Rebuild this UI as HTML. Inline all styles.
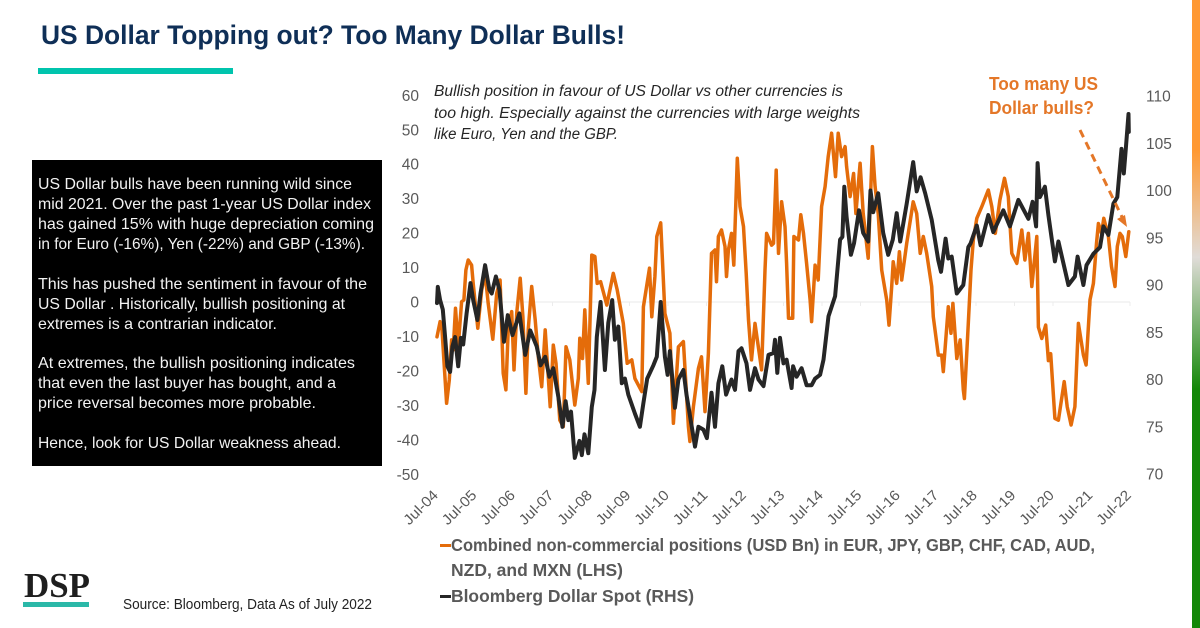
<!DOCTYPE html>
<html lang="en">
<head>
<meta charset="utf-8">
<title>US Dollar Topping out? Too Many Dollar Bulls!</title>
<style>
  html, body { margin: 0; padding: 0; background: #fff; }
  #slide { display: block; width: 1200px; height: 628px; font-family: "Liberation Sans", sans-serif; }
</style>
</head>
<body>
<svg id="slide" xmlns="http://www.w3.org/2000/svg" width="1200" height="628" viewBox="0 0 1200 628">
  <defs>
    <linearGradient id="flagGrad" x1="0" y1="0" x2="0" y2="1">
      <stop offset="0" stop-color="#FF9933"/>
      <stop offset="0.24" stop-color="#FF9933"/>
      <stop offset="0.41" stop-color="#E0DCD8"/>
      <stop offset="0.62" stop-color="#138808"/>
      <stop offset="1" stop-color="#138808"/>
    </linearGradient>
  </defs>
  <rect width="1200" height="628" fill="#fff"/>
  <rect x="1192" y="0" width="8" height="628" fill="url(#flagGrad)"/>

  <text x="41" y="44" font-size="27" font-weight="700" fill="#0F2F57" textLength="584" lengthAdjust="spacingAndGlyphs">US Dollar Topping out? Too Many Dollar Bulls!</text>
  <rect x="38" y="68" width="195" height="6" fill="#00C4AD"/>

  <g>
    <rect x="32" y="160" width="350" height="306" fill="#000"/>
    <g font-size="16" fill="#F2F2F2">
      <text x="38" y="189" textLength="314" lengthAdjust="spacingAndGlyphs">US Dollar bulls have been running wild since</text>
      <text x="38" y="209" textLength="333" lengthAdjust="spacingAndGlyphs">mid 2021. Over the past 1-year US Dollar index</text>
      <text x="38" y="229" textLength="336" lengthAdjust="spacingAndGlyphs">has gained 15% with huge depreciation coming</text>
      <text x="38" y="249" textLength="327" lengthAdjust="spacingAndGlyphs">in for Euro (-16%), Yen (-22%) and GBP (-13%).</text>
      <text x="38" y="289" textLength="329" lengthAdjust="spacingAndGlyphs">This has pushed the sentiment in favour of the</text>
      <text x="38" y="309" textLength="307" lengthAdjust="spacingAndGlyphs">US Dollar . Historically, bullish positioning at</text>
      <text x="38" y="329" textLength="239" lengthAdjust="spacingAndGlyphs">extremes is a contrarian indicator.</text>
      <text x="38" y="368" textLength="317" lengthAdjust="spacingAndGlyphs">At extremes, the bullish positioning indicates</text>
      <text x="38" y="388" textLength="298" lengthAdjust="spacingAndGlyphs">that even the last buyer has bought, and a</text>
      <text x="38" y="408" textLength="278" lengthAdjust="spacingAndGlyphs">price reversal becomes more probable.</text>
      <text x="38" y="448" textLength="303" lengthAdjust="spacingAndGlyphs">Hence, look for US Dollar weakness ahead.</text>
    </g>
  </g>

  <g id="chart"></g>

  <g font-size="15.5" font-style="italic" fill="#262626">
    <text x="434" y="96" textLength="409" lengthAdjust="spacingAndGlyphs">Bullish position in favour of US Dollar vs other currencies is</text>
    <text x="434" y="118" textLength="426" lengthAdjust="spacingAndGlyphs">too high. Especially against the currencies with large weights</text>
    <text x="434" y="139" textLength="184" lengthAdjust="spacingAndGlyphs">like Euro, Yen and the GBP.</text>
  </g>

  <g font-size="18" font-weight="700" fill="#E47728">
    <text x="989" y="90" textLength="109" lengthAdjust="spacingAndGlyphs">Too many US</text>
    <text x="989" y="114" textLength="105" lengthAdjust="spacingAndGlyphs">Dollar bulls?</text>
  </g>
  <g>
    <line x1="1080" y1="130" x2="1122" y2="217" stroke="#E47728" stroke-width="3" stroke-dasharray="8 5.5"/>
    <polygon points="1127,227 1117,219 1125,215" fill="#E47728"/>
  </g>

  <g>
    <g>
      <rect x="440" y="544" width="11" height="3" fill="#E46C0A"/>
      <g font-size="17.5" font-weight="700" fill="#595959">
        <text x="451" y="551" textLength="644" lengthAdjust="spacingAndGlyphs">Combined non-commercial positions (USD Bn) in EUR, JPY, GBP, CHF, CAD, AUD,</text>
        <text x="451" y="576" textLength="172" lengthAdjust="spacingAndGlyphs">NZD, and MXN (LHS)</text>
      </g>
    </g>
    <g>
      <rect x="440" y="595" width="11" height="3" fill="#262626"/>
      <text x="451" y="602" font-size="17.5" font-weight="700" fill="#595959" textLength="243" lengthAdjust="spacingAndGlyphs">Bloomberg Dollar Spot (RHS)</text>
    </g>
  </g>

  <g>
    <text x="24" y="597" font-family="'Liberation Serif', serif" font-size="35" font-weight="700" fill="#1E1E1E" textLength="66" lengthAdjust="spacingAndGlyphs">DSP</text>
    <rect x="23" y="602" width="66" height="5" fill="#2BB8A8"/>
  </g>
  <text x="123" y="609" font-size="14.5" fill="#222" textLength="249" lengthAdjust="spacingAndGlyphs">Source: Bloomberg, Data As of July 2022</text>
</svg>

<script>
// Years elapsed since Jul-04 for each reading, and the reading itself.
const positionYears = [0,.08,.13,.25,.32,.38,.42,.48,.55,.64,.70,.75,.81,.90,.94,1.06,1.16,1.25,1.33,1.45,1.55,1.64,1.72,1.79,1.85,1.94,2.0,2.07,2.16,2.23,2.31,2.37,2.46,2.55,2.63,2.72,2.81,2.94,3.02,3.09,3.19,3.28,3.35,3.45,3.58,3.67,3.71,3.78,3.84,3.93,4.02,4.10,4.16,4.25,4.41,4.58,4.68,4.84,4.94,5.06,5.14,5.32,5.36,5.52,5.58,5.66,5.71,5.81,5.86,5.92,6.05,6.14,6.27,6.4,6.53,6.57,6.66,6.79,6.87,6.96,7.05,7.13,7.22,7.26,7.31,7.39,7.48,7.52,7.57,7.65,7.71,7.80,7.87,7.96,8.03,8.09,8.17,8.26,8.43,8.52,8.56,8.69,8.74,8.81,8.87,8.95,9.04,9.08,9.13,9.24,9.27,9.39,9.45,9.52,9.60,9.69,9.73,9.82,9.90,9.99,10.08,10.16,10.25,10.35,10.42,10.51,10.6,10.64,10.73,10.82,10.88,10.99,11.07,11.20,11.31,11.38,11.46,11.55,11.68,11.74,11.81,11.85,11.94,12.01,12.07,12.2,12.37,12.46,12.55,12.63,12.72,12.85,12.89,13.02,13.11,13.15,13.28,13.35,13.40,13.50,13.59,13.67,13.70,13.80,13.87,13.93,14.02,14.15,14.32,14.41,14.50,14.62,14.74,14.84,14.93,15.06,15.19,15.27,15.36,15.45,15.58,15.62,15.71,15.81,15.88,15.94,16.05,16.14,16.29,16.37,16.47,16.57,16.66,16.79,16.86,16.96,17.05,17.13,17.18,17.26,17.32,17.44,17.52,17.61,17.67,17.74,17.80,17.89,17.97];
const positionValues = [-10.1,-5.7,-8.1,-29.4,-22.6,-11,-13.9,-1.8,-13,.1,.6,9.3,12.2,10.7,5.4,-7.6,3.5,8.3,-.4,-10.8,2.5,6.4,-20.7,-25.5,-8.1,-2.8,-19.7,-3.3,6.9,-4.3,-26.5,-8.1,4.5,-5.2,-15.9,-24.6,-8.1,-30.4,-12.5,-17.8,-34.3,-36.2,-13,-16.8,-29.9,-22.2,-10.5,-16.4,-2.3,-23.6,13.6,13.2,5.4,5.9,-.9,8.3,3.5,-6.2,-17.8,-16.8,-22.2,-26,-1.4,9.8,-4.3,7.4,19,23,11.2,-3.3,-9.1,-35.2,-13,-11.5,-36.2,-40.5,-30.4,-19.3,-15.9,-31.8,-14.9,14.1,15.1,5.9,19,20.9,16.1,7.4,15.1,19.9,10.7,41.7,27.7,21.9,8.3,-5.2,-16.8,-6.2,-19.7,9.3,19.9,16.5,17,38.3,14.1,29.1,21.9,11.2,-4.7,-4.7,19,18,25.3,19.9,11.2,.6,-5.7,10.7,6.4,27.7,33.5,42.2,49,36.4,49,42.2,45.1,39.3,30.6,37.3,25.7,40.3,25.7,12.7,45.1,33.5,25.7,9.3,.6,-6.7,4.5,11.7,5.4,14.6,6.4,17,29.1,25.7,14.1,19,14.1,4.5,-4.3,-15.4,-15.4,-20.2,-1.4,-9.1,-.4,-16.4,-11,-25.5,-28,-6.2,9.3,18,24.3,27.7,32.5,27.7,19.9,29.6,35.9,30.6,14.1,11.2,20.9,12.2,19.9,4.5,19,-7.3,-10.6,-6.7,-17,-15,-33.8,-34.3,-23.1,-30.4,-35.7,-30.4,-6.2,-15.4,-18.3,.6,5.4,17,22.8,19.9,24.3,19,10.3,4.5,16.1,19.9,19,13.2,20.4];
const dollarYears = [0,.02,.08,.15,.21,.27,.34,.40,.47,.55,.62,.68,.77,.87,.94,1.05,1.13,1.25,1.36,1.42,1.53,1.62,1.74,1.84,1.96,2.14,2.29,2.42,2.59,2.69,2.81,2.92,3.02,3.15,3.26,3.34,3.41,3.48,3.58,3.70,3.76,3.83,3.93,4.02,4.09,4.15,4.25,4.36,4.45,4.55,4.62,4.71,4.80,4.88,4.97,5.14,5.27,5.36,5.46,5.62,5.71,5.81,5.92,5.99,6.05,6.18,6.27,6.40,6.48,6.70,6.79,6.92,7.01,7.13,7.22,7.31,7.41,7.51,7.65,7.74,7.83,7.91,8.04,8.13,8.26,8.35,8.48,8.61,8.74,8.78,8.84,8.91,9.0,9.08,9.21,9.25,9.34,9.47,9.60,9.73,9.82,9.95,10.04,10.17,10.34,10.47,10.53,10.58,10.64,10.75,10.83,10.96,11.07,11.20,11.26,11.33,11.46,11.59,11.72,11.84,11.94,12.03,12.2,12.37,12.46,12.56,12.68,12.85,13.02,13.09,13.21,13.28,13.37,13.50,13.67,13.80,13.86,14.02,14.12,14.32,14.45,14.71,14.88,15.10,15.36,15.47,15.56,15.60,15.66,15.79,15.88,16.05,16.14,16.40,16.57,16.64,16.79,16.87,17.05,17.22,17.31,17.44,17.57,17.67,17.78,17.84,17.89,17.96,17.97];
const dollarValues = [88.1,89.8,88.4,87.4,84.5,81.4,80.8,83.5,84.5,81.4,84.4,83.7,87,90.2,88.4,86.3,89.1,92.1,89.5,89.1,90.9,89.5,84,86.8,84.7,87,82.6,85.2,83.5,81.5,82.4,80.3,81.2,78.2,75,77.7,75.7,76.6,71.7,73.5,72,74.2,72.2,77.1,78.9,84.5,88.2,81,86,88.4,84.2,85.6,79.6,80.1,78.4,76.4,75,77.5,80.1,81.5,82.4,88.2,82.4,80.5,83,77,80,81,78.4,72.9,75,74.7,73.8,78.6,75,79.6,81.4,78.4,80,78.9,83,83.3,81.7,78.9,81.2,80,79.3,82.6,82.8,84.2,80.7,84.4,81.7,82.1,79.1,81.4,80.3,81.2,79.4,79.4,80.1,80.5,82.1,86.7,88.8,94.8,95.1,100.4,97.2,93.2,94.4,97.9,95.5,94.6,100,97.7,99.7,95.5,93.2,94.8,97.6,94.6,98.6,103,99.9,101.4,99.7,96.9,92.6,91.4,94.9,92.8,93,89.1,90,94,94.4,96.3,94.2,97.4,95.6,97.9,96.2,99,97,98.8,96.2,102.9,99.3,100.4,97.4,92.5,94.6,90,90.9,93,90,92.1,93.3,94,96.2,95.3,98.6,99.3,104.4,101.8,104.4,108.1,106.2];
const leftTicks = [60,50,40,30,20,10,0,-10,-20,-30,-40,-50];
const rightTicks = [110,105,100,95,90,85,80,75,70];
const xTickLabels = ['Jul-04','Jul-05','Jul-06','Jul-07','Jul-08','Jul-09','Jul-10','Jul-11','Jul-12','Jul-13','Jul-14','Jul-15','Jul-16','Jul-17','Jul-18','Jul-19','Jul-20','Jul-21','Jul-22'];

const NS = 'http://www.w3.org/2000/svg';
const chart = document.getElementById('chart');
const xScale = t => 437 + t * 38.5;
const yLeft = v => 302 - v * 3.445;
const yRight = r => 96 + (110 - r) * 9.45;

function makeEl(tag, attrs) {
  const el = document.createElementNS(NS, tag);
  for (const k in attrs) el.setAttribute(k, attrs[k]);
  chart.appendChild(el);
  return el;
}

const zeroLine = makeEl('line', { x1: xScale(0), x2: xScale(18), y1: yLeft(0), y2: yLeft(0), stroke: '#E8E8E8', 'stroke-width': 1 });



xTickLabels.forEach((label, i) => {
  const mark = makeEl('line', { x1: xScale(i), x2: xScale(i), y1: yLeft(0), y2: yLeft(0) + 4, stroke: '#ECECEC', 'stroke-width': 1 });
  
  
  const px = xScale(i) + 2;
  const py = 496;
  const t = makeEl('text', { x: px, y: py, 'font-size': 14.5, fill: '#595959', 'text-anchor': 'end', transform: 'rotate(-45 ' + px + ' ' + py + ')', textLength: 42, lengthAdjust: 'spacingAndGlyphs' });
  
  
  t.textContent = label;
});

leftTicks.forEach(v => {
  const t = makeEl('text', { x: 419, y: yLeft(v) + 5.5, 'font-size': 15.5, fill: '#595959', 'text-anchor': 'end' });
  
  
  t.textContent = v;
});

rightTicks.forEach(v => {
  const t = makeEl('text', { x: 1146, y: yRight(v) + 5.5, 'font-size': 15.5, fill: '#595959' });
  
  
  t.textContent = v;
});

function linePath(years, values, yFn) {
  return years.map((t, i) => (i ? 'L' : 'M') + xScale(t).toFixed(1) + ' ' + yFn(values[i]).toFixed(1)).join(' ');
}

const positionsLine = makeEl('path', { d: linePath(positionYears, positionValues, yLeft), fill: 'none', stroke: '#E46C0A', 'stroke-width': 3.5, 'stroke-linejoin': 'round', 'stroke-linecap': 'round' });



const dollarLine = makeEl('path', { d: linePath(dollarYears, dollarValues, yRight), fill: 'none', stroke: '#262626', 'stroke-width': 4, 'stroke-linejoin': 'round', 'stroke-linecap': 'round' });


</script>
</body>
</html>
